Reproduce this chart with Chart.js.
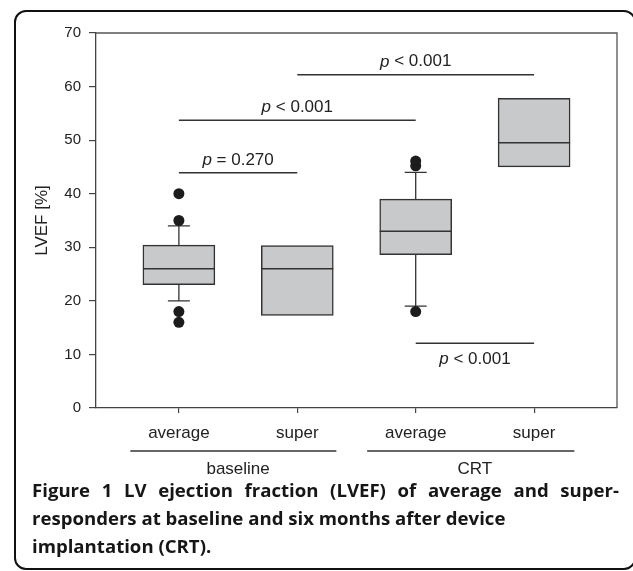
<!DOCTYPE html>
<html>
<head>
<meta charset="utf-8">
<script src="https://cdn.jsdelivr.net/npm/chart.js@4.4.1/dist/chart.umd.min.js"></script>
<style>
  html, body { margin: 0; padding: 0; background: #fff; }
  #wrap { position: relative; width: 633px; height: 571px; overflow: hidden; }
  #frame {
    position: absolute; left: 14px; top: 10px; width: 622px; height: 560px;
    box-sizing: border-box; border: 2px solid #111; border-radius: 12px;
  }
  #chart { position: absolute; left: 0; top: 0; }
  #caption {
    position: absolute; left: 32px; top: 476px;
    font-family: "Open Sans", sans-serif; font-weight: bold; font-size: 18.6px;
    line-height: 28px; color: #161616; white-space: nowrap;
  }
  #caption .first { display: block; width: 587px; text-align: justify; text-align-last: justify; }
</style>
</head>
<body>
<div id="wrap">
  <div id="frame"></div>
  <canvas id="chart" width="633" height="571"></canvas>
  <div id="caption">
    <span class="first">Figure 1 LV ejection fraction (LVEF) of average and super-</span>
    <div>responders at baseline and six months after device</div>
    <div>implantation (CRT).</div>
  </div>
</div>
<script>
// categories and groups
const categories = ["average", "super", "average", "super"];
const groups = ["baseline", "CRT"];
const groupCenter = [1.5, 3.5];
const groupLineFrom = [0.59, 2.59];
const groupLineTo = [2.33, 4.34];

// box values (LVEF %)
const q1 = [23.0, 17.3, 28.6, 45.0];
const medians = [26.0, 26.0, 33.0, 49.5];
const q3 = [30.4, 30.3, 39.0, 57.8];
const whiskerLow = [20, null, 19, null];
const whiskerHigh = [34, null, 44, null];
const outliers = [[40, 35, 18, 16], [], [46.1, 45.2, 18], []];

// p-value brackets
const pFrom = [1, 1, 2, 3];
const pTo = [2, 3, 4, 4];
const pLevel = [43.9, 53.7, 62.2, 12.1];
const pText = ["= 0.270", "< 0.001", "< 0.001", "< 0.001"];
const pBelow = [false, false, false, true];

const FONT = "'Liberation Sans', Arial, sans-serif";
const INK = "#333";

const boxes = categories.map((c, i) => ({ x: i + 1, y: [q1[i], q3[i]] }));
const outlierPoints = outliers.flatMap((arr, i) => arr.map(v => ({ x: i + 1, y: v })));

const boxParts = {
  id: "boxParts",
  beforeDatasetsDraw(chart) {
    const { ctx } = chart;
    const y = chart.scales.y;
    const meta = chart.getDatasetMeta(1);
    ctx.save();
    ctx.strokeStyle = INK;
    ctx.lineWidth = 1.3;
    meta.data.forEach((bar, i) => {
      [[q3[i], whiskerHigh[i]], [q1[i], whiskerLow[i]]].forEach(([from, to]) => {
        if (to == null) return;
        const y1 = y.getPixelForValue(from), y2 = y.getPixelForValue(to);
        ctx.beginPath();
        ctx.moveTo(bar.x, y1);
        ctx.lineTo(bar.x, y2);
        ctx.moveTo(bar.x - 11, y2);
        ctx.lineTo(bar.x + 11, y2);
        ctx.stroke();
      });
    });
    ctx.restore();
  },
  afterDatasetsDraw(chart) {
    const { ctx, chartArea } = chart;
    const x = chart.scales.x, y = chart.scales.y;
    const meta = chart.getDatasetMeta(1);
    ctx.save();

    // medians
    ctx.strokeStyle = INK;
    ctx.lineWidth = 1.5;
    meta.data.forEach((bar, i) => {
      const ym = y.getPixelForValue(medians[i]);
      ctx.beginPath();
      ctx.moveTo(bar.x - bar.width / 2, ym);
      ctx.lineTo(bar.x + bar.width / 2, ym);
      ctx.stroke();
    });

    // plot frame (top + right)
    ctx.strokeStyle = "#555";
    ctx.lineWidth = 1.3;
    ctx.beginPath();
    ctx.moveTo(chartArea.left, chartArea.top);
    ctx.lineTo(chartArea.right, chartArea.top);
    ctx.lineTo(chartArea.right, chartArea.bottom);
    ctx.stroke();

    // p-value brackets
    ctx.strokeStyle = INK;
    ctx.fillStyle = "#222";
    ctx.textBaseline = "middle";
    pLevel.forEach((lv, i) => {
      const py = y.getPixelForValue(lv);
      const x1 = x.getPixelForValue(pFrom[i]), x2 = x.getPixelForValue(pTo[i]);
      ctx.lineWidth = 1.4;
      ctx.beginPath();
      ctx.moveTo(x1, py);
      ctx.lineTo(x2, py);
      ctx.stroke();
      const ty = pBelow[i] ? py + 16 : py - 13;
      ctx.font = "italic 17px " + FONT;
      const wp = ctx.measureText("p").width;
      ctx.font = "17px " + FONT;
      const rest = " " + pText[i];
      const wr = ctx.measureText(rest).width;
      const sx = (x1 + x2) / 2 - (wp + wr) / 2;
      ctx.textAlign = "left";
      ctx.font = "italic 17px " + FONT;
      ctx.fillText("p", sx, ty);
      ctx.font = "17px " + FONT;
      ctx.fillText(rest, sx + wp, ty);
    });

    // group lines and labels under the axis
    ctx.lineWidth = 1.4;
    ctx.textAlign = "center";
    ctx.font = "17px " + FONT;
    groups.forEach((g, i) => {
      const ly = chartArea.bottom + 43;
      ctx.beginPath();
      ctx.moveTo(x.getPixelForValue(groupLineFrom[i]), ly);
      ctx.lineTo(x.getPixelForValue(groupLineTo[i]), ly);
      ctx.stroke();
      ctx.fillText(g, x.getPixelForValue(groupCenter[i]), chartArea.bottom + 61);
    });
    ctx.restore();
  }
};

new Chart(document.getElementById("chart"), {
  type: "bar",
  data: {
    datasets: [
      {
        type: "scatter",
        data: outlierPoints,
        pointRadius: 5.5,
        pointBackgroundColor: "#1c1c1c",
        pointBorderColor: "#1c1c1c",
        pointBorderWidth: 0,
      },
      {
        type: "bar",
        data: boxes,
        backgroundColor: "#c8c9cb",
        borderColor: INK,
        borderWidth: 1.5,
        borderSkipped: false,
        barThickness: 72,
      },
    ],
  },
  options: {
    responsive: false,
    animation: false,
    layout: { padding: { top: 33, right: 16, left: 0, bottom: 0 } },
    plugins: { legend: { display: false }, tooltip: { enabled: false } },
    scales: {
      x: {
        type: "linear",
        min: 0.3,
        max: 4.7,
        offset: false,
        afterBuildTicks: ax => { ax.ticks = categories.map((c, i) => ({ value: i + 1 })); },
        afterFit: ax => { ax.height = 163; },
        ticks: {
          callback: v => categories[v - 1],
          font: { family: FONT, size: 17 },
          color: "#222",
          padding: 10,
          maxRotation: 0,
          autoSkip: false,
        },
        grid: { drawOnChartArea: false, offset: false, tickLength: 5, color: "#444", lineWidth: 1.2 },
        border: { color: "#444", width: 1.3 },
      },
      y: {
        min: 0,
        max: 70,
        ticks: { stepSize: 10, padding: 8, font: { family: FONT, size: 15 }, color: "#222" },
        grid: { drawOnChartArea: false, tickLength: 7, color: "#444", lineWidth: 1.2 },
        border: { color: "#444", width: 1.3 },
        title: {
          display: true,
          text: "LVEF [%]",
          font: { family: FONT, size: 17 },
          color: "#222",
          padding: { top: 32, bottom: 0 },
        },
        afterFit: ax => { ax.width = 96; },
      },
    },
  },
  plugins: [boxParts],
});
</script>
</body>
</html>
